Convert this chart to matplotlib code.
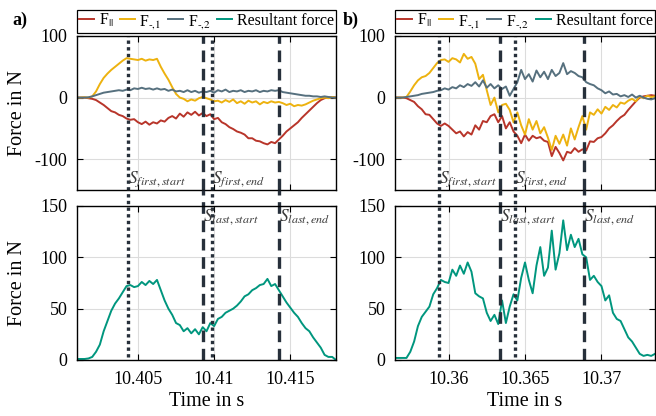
import numpy as np
import matplotlib
matplotlib.use("Agg")
import matplotlib.pyplot as plt

plt.rcParams['font.family'] = ['Liberation Serif', 'DejaVu Serif']
plt.rcParams['mathtext.fontset'] = 'stix'

# ---------------- data: panel a ----------------
t_a_start = 10.401
dt = 0.00025
n_pts = 69
time_a = t_a_start + dt * np.arange(n_pts)

f_par_a = [0, 0, 0, -1, -2, -4, -8, -12, -17, -22, -24, -28, -30, -34, -36, -35, -40, -43, -39, -44,
           -40, -42, -37, -39, -33, -30, -34, -26, -31, -24, -28, -23, -29, -25, -30, -27, -35, -33, -40, -43,
           -48, -51, -55, -57, -60, -66, -66, -70, -71, -74, -76, -72, -74, -68, -62, -55, -50, -45, -40, -33,
           -27, -21, -15, -9, -4, -1, 0, 1, 0]
f_m1_a = [0, 0, 0.5, 0, 2, 10, 22, 32, 39, 45, 50, 55, 60, 64, 63, 62, 61, 63, 60, 62,
          61, 63, 50, 39, 29, 17, 6, 0, -2, -6, -3, -5, -1, 1, -1, -3, -6, -5, -8, -4,
          -7, -3, -9, -6, -10, -5, -8, -6, -11, -7, -9, -6, -8, -7, -9, -12, -10, -14, -12, -13,
          -11, -8, -5, -3, -1, 0, -1, 1, 0]
f_m2_a = [0, 0, 0, 0.5, 2, 4, 6, 8, 9, 10, 11, 12, 11, 13, 12, 15, 14, 16, 14, 15,
          13, 15, 13, 14, 11, 13, 10, 11, 9, 12, 9, 11, 8, 10, 9, 11, 8, 12, 10, 13,
          9, 11, 10, 12, 9, 11, 10, 12, 9, 11, 10, 12, 11, 12, 9, 8, 7, 6, 5, 4,
          3, 3, 2, 2, 1, 2, 1, 0, 0]
f_res_a = [1, 1, 1, 1.5, 3, 8, 15, 28, 38, 48, 55, 60, 66, 72, 73, 71, 72, 76, 73, 77,
           74, 78, 68, 58, 50, 44, 36, 34, 28, 31, 26, 30, 25, 32, 28, 36, 33, 40, 42, 46,
           48, 50, 53, 57, 62, 64, 68, 70, 73, 74, 79, 72, 74, 68, 62, 56, 51, 46, 42, 36,
           31, 28, 22, 17, 12, 5, 3, 3, 0]
dotted_a = [10.40434, 10.40987]
dashed_a = [10.40928, 10.41428]
xlim_a = (10.401, 10.418)
xticks_a = [10.405, 10.41, 10.415]
xticklabels_a = ['10.405', '10.41', '10.415']

# ---------------- data: panel b ----------------
t_b_start = 10.3565
time_b = t_b_start + dt * np.arange(n_pts)

f_par_b = [0, 0, 0, -1, -4, -7, -14, -19, -27, -28, -35, -42, -46, -42, -46, -52, -58, -55, -63, -56,
           -60, -45, -52, -38, -40, -30, -27, -40, -30, -50, -40, -55, -62, -74, -60, -70, -62, -66, -64, -70,
           -72, -95, -80, -90, -102, -88, -90, -82, -88, -84, -86, -71, -72, -66, -64, -58, -50, -45, -38, -32,
           -28, -20, -13, -6, 0, 2, 3, 4, 3]
f_m1_b = [0, 0, 0, 1, 10, 20, 28, 33, 35, 40, 48, 56, 61, 62, 58, 64, 62, 57, 71, 63,
          66, 55, 30, 37, 12, -12, 0, -24, -12, -10, -20, -40, -24, -45, -60, -35, -52, -38, -58, -48,
          -65, -85, -62, -75, -60, -78, -50, -68, -48, -30, -52, -24, -28, -19, -26, -15, -20, -12, -16, -8,
          -10, -5, -2, -6, 2, -1, 3, 1, 2]
f_m2_b = [0, 0, 0, 1, 2, 3, 4, 6, 7, 8, 9, 11, 12, 15, 13, 17, 15, 20, 17, 22,
          19, 25, 18, 28, 16, 22, 15, 20, 14, 18, 3, 14, 25, 45, 30, 38, 26, 44, 33, 42,
          30, 45, 35, 40, 56, 38, 43, 40, 35, 33, 25, 22, 20, 15, 12, 7, 10, 5, 6, 2,
          4, 1, 5, 0, 3, 0, -2, -3, -1]
f_res_b = [2, 2, 2, 2, 8, 18, 33, 42, 47, 52, 64, 70, 78, 76, 75, 88, 82, 92, 84, 95,
           86, 65, 62, 60, 46, 38, 44, 35, 58, 36, 52, 64, 58, 80, 95, 78, 65, 92, 110, 82,
           90, 126, 88, 104, 136, 107, 122, 110, 118, 103, 100, 78, 82, 76, 72, 58, 63, 46, 40, 38,
           30, 22, 18, 12, 6, 4, 5, 4, 6]
dotted_b = [10.35935, 10.36435]
dashed_b = [10.36337, 10.36889]
xlim_b = (10.3565, 10.3735)
xticks_b = [10.36, 10.365, 10.37]
xticklabels_b = ['10.36', '10.365', '10.37']

labels = [r'F$_{||}$', r'F$_{\text{-,1}}$', r'F$_{\text{-,2}}$', 'Resultant force']
colors = ['#B8352A', '#EDB20F', '#56707E', '#00967E']
marker_texts_top = [r'$S_{first,start}$', r'$S_{first,end}$']
marker_texts_bot = [r'$S_{last,start}$', r'$S_{last,end}$']

# ---------------- figure ----------------
W, H = 656, 416
fig = plt.figure(figsize=(W / 100, H / 100), dpi=100)

def px_axes(l, t, r, b):
    return fig.add_axes([l / W, 1 - b / H, (r - l) / W, (b - t) / H])

line_col = '#27303B'
grid_col = '#DCDCDC'
txt_col = '#3A3A3A'

def style(ax):
    ax.grid(True, color=grid_col, lw=0.8)
    ax.set_axisbelow(True)
    ax.tick_params(direction='in', top=True, right=True, length=4, labelsize=13, width=0.8)
    ax.tick_params(axis='y', pad=7)
    ax.tick_params(axis='x', pad=8)
    for s in ax.spines.values():
        s.set_linewidth(1.0)

panels = [
    (77, 336, time_a, f_par_a, f_m1_a, f_m2_a, f_res_a, dotted_a, dashed_a, xlim_a, xticks_a, xticklabels_a, 'a)', 12, True),
    (395, 655, time_b, f_par_b, f_m1_b, f_m2_b, f_res_b, dotted_b, dashed_b, xlim_b, xticks_b, xticklabels_b, 'b)', 343, False),
]

for (l, r, tt, fp, f1, f2, fr, dots, dashes, xl, xt, xtl, tag, tagx, show_ylabel) in panels:
    ax1 = px_axes(l, 36, r, 190)
    ax2 = px_axes(l, 206, r, 360)
    for ax in (ax1, ax2):
        style(ax)
        ax.set_xlim(*xl)
        ax.set_xticks(xt)
    ax1.set_xticklabels([])
    ax2.set_xticklabels(xtl)
    ax1.set_ylim(-150, 100)
    ax1.set_yticks([-100, 0, 100])
    ax1.set_yticklabels(['-100', '0', '100'])
    ax2.set_ylim(0, 150)
    ax2.set_yticks([0, 50, 100, 150])

    h1, = ax1.plot(tt, fp, color=colors[0], lw=1.4)
    h2, = ax1.plot(tt, f1, color=colors[1], lw=1.4)
    h3, = ax1.plot(tt, f2, color=colors[2], lw=1.4)
    h4, = ax2.plot(tt, fr, color=colors[3], lw=1.4)

    for x in dots:
        ax1.axvline(x, color=line_col, lw=2.4, ls=(0, (1, 1)))
        ax2.axvline(x, color=line_col, lw=2.4, ls=(0, (1, 1)), ymin=0.02, ymax=1.104, clip_on=False)
    for x in dashes:
        ax1.axvline(x, color=line_col, lw=2.4, ls=(0, (3.5, 2)))
        ax2.axvline(x, color=line_col, lw=2.4, ls=(0, (3.5, 2)), ymin=0, ymax=1.104, clip_on=False)

    ax1.text(dots[0], -133, marker_texts_top[0], fontsize=12.5, color=txt_col, ha='left', va='center')
    ax1.text(dots[1], -133, marker_texts_top[1], fontsize=12.5, color=txt_col, ha='left', va='center')
    ax2.text(dashes[0], 139, marker_texts_bot[0], fontsize=12.5, color=txt_col, ha='left', va='center')
    ax2.text(dashes[1], 139, marker_texts_bot[1], fontsize=12.5, color=txt_col, ha='left', va='center')

    if show_ylabel:
        for ax in (ax1, ax2):
            ax.set_ylabel('Force in N', fontsize=14.5)
            ax.yaxis.set_label_coords((27 - l) / (r - l), 0.5)
    ax2.set_xlabel('Time in s', fontsize=14.5, labelpad=3)

    leg = ax1.legend([h1, h2, h3, h4], labels, loc='lower left', bbox_to_anchor=(0, 1.02, 1, 0.13),
                     mode='expand', ncol=4, fontsize=11.5, handlelength=0.9, handletextpad=0.3,
                     columnspacing=0.3, borderpad=0.15, borderaxespad=0, fancybox=False,
                     edgecolor='black', framealpha=1)
    leg.get_frame().set_linewidth(0.9)

    fig.text(tagx / W, 1 - 20 / H, tag, fontsize=13, fontweight='bold', va='center', ha='left')

fig.savefig('out.png', dpi=100)
